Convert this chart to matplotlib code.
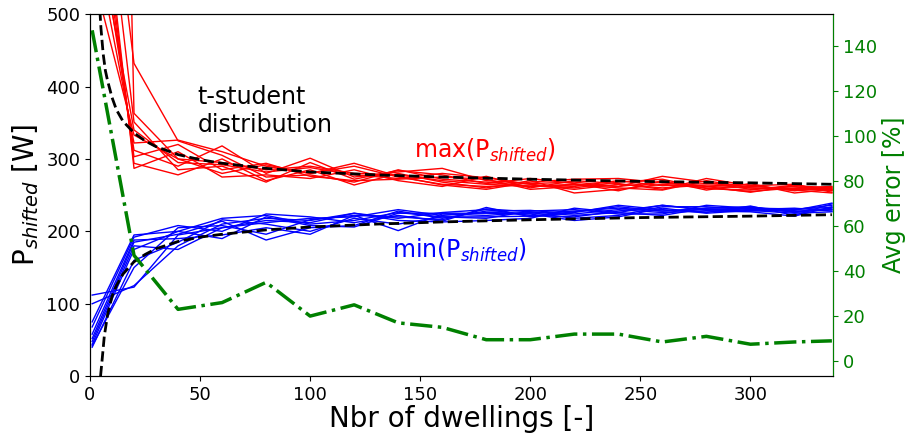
import matplotlib
matplotlib.use("Agg")
import matplotlib.pyplot as plt

# number of dwellings at which the aggregation was evaluated
n_dwell = [1, 20, 40, 60, 80, 100, 120, 140, 160, 180, 200, 220, 240, 260, 280, 300, 320, 337]

# max(P_shifted) for each sample run
max_runs = [
    [560, 333, 300, 295, 285, 290, 280, 278, 270, 265, 262, 265, 262, 268, 262, 260, 258, 257],
    [620, 322, 326, 310, 290, 280, 290, 275, 265, 262, 264, 258, 265, 260, 264, 262, 259, 259],
    [680, 312, 290, 318, 280, 301, 275, 282, 287, 270, 266, 268, 262, 276, 268, 258, 262, 256],
    [720, 303, 320, 285, 294, 276, 270, 272, 275, 272, 258, 262, 270, 263, 266, 264, 256, 261],
    [760, 294, 278, 300, 270, 285, 264, 280, 268, 260, 270, 253, 258, 265, 260, 255, 260, 262],
    [800, 287, 310, 275, 278, 273, 285, 270, 262, 276, 260, 270, 266, 258, 273, 263, 265, 254],
    [840, 351, 285, 290, 268, 295, 272, 284, 278, 266, 273, 266, 256, 270, 257, 266, 253, 258],
    [3000, 363, 300, 280, 292, 280, 294, 276, 264, 258, 268, 272, 273, 267, 262, 254, 263, 260],
    [900, 432, 325, 305, 275, 278, 268, 285, 272, 268, 262, 264, 260, 257, 270, 260, 257, 253],
    [650, 340, 295, 292, 282, 288, 278, 273, 280, 274, 265, 260, 268, 272, 259, 257, 264, 257],
]

# min(P_shifted) for each sample run
min_runs = [
    [112, 123, 195, 205, 212, 218, 220, 230, 222, 226, 225, 228, 232, 228, 232, 234, 226, 232],
    [100, 125, 180, 210, 218, 215, 225, 218, 226, 230, 222, 220, 228, 236, 230, 228, 230, 236],
    [75, 195, 200, 218, 222, 210, 215, 226, 220, 218, 228, 230, 224, 224, 236, 232, 228, 230],
    [68, 192, 208, 200, 224, 220, 212, 222, 214, 233, 220, 226, 236, 230, 226, 235, 222, 238],
    [58, 188, 190, 195, 205, 196, 222, 201, 224, 222, 226, 218, 222, 234, 234, 230, 232, 228],
    [52, 185, 196, 214, 188, 205, 208, 228, 218, 228, 229, 224, 230, 226, 228, 227, 221, 234],
    [48, 180, 175, 205, 215, 212, 225, 215, 213, 215, 218, 232, 226, 222, 232, 233, 229, 239],
    [44, 175, 200, 190, 220, 208, 206, 225, 225, 225, 224, 215, 220, 232, 225, 229, 225, 227],
    [40, 160, 185, 216, 210, 200, 218, 210, 220, 220, 221, 227, 234, 228, 230, 232, 231, 233],
    [42, 150, 205, 208, 196, 216, 222, 220, 216, 231, 227, 222, 226, 236, 229, 231, 227, 230],
]

# t-student bounds
t_upper_x = [4.5, 5, 6, 7, 8, 10, 12, 15, 20, 25, 30, 40, 50, 60, 80, 100, 130, 160, 200, 250, 300, 337]
t_upper = [505, 480, 445, 422, 408, 385, 368, 352, 336, 325, 317, 306, 299, 294, 287, 282, 278, 275, 272, 269, 267, 265]
t_lower_x = [4.8, 5.5, 6.5, 8, 10, 12, 15, 20, 25, 30, 40, 50, 60, 80, 100, 130, 160, 200, 250, 300, 337]
t_lower = [0, 22, 55, 85, 110, 125, 141, 158, 168, 176, 186, 192, 196, 202, 206, 210, 213, 216, 219, 221, 223]

# average error [%]
avg_error = [147, 47, 23, 26, 35, 20, 25, 17, 15, 9.5, 9.5, 12, 12, 8.5, 11, 7.5, 8.5, 9]

fig = plt.figure(figsize=(9.07, 4.41), dpi=100)
ax = fig.add_axes([0.0992, 0.147, 0.8192, 0.821])

for run in max_runs:
    ax.plot(n_dwell, run, color="red", lw=1.0)
for run in min_runs:
    ax.plot(n_dwell, run, color="blue", lw=1.0)
ax.plot(t_upper_x, t_upper, "k--", lw=2)
ax.plot(t_lower_x, t_lower, "k--", lw=2)

ax.set_xlim(0, 337.5)
ax.set_ylim(0, 500)
ax.set_xticks([0, 50, 100, 150, 200, 250, 300])
ax.set_yticks([0, 100, 200, 300, 400, 500])
ax.tick_params(labelsize=13)
ax.set_xlabel("Nbr of dwellings [-]", fontsize=20, labelpad=1)
ax.set_ylabel("P$_{shifted}$ [W]", fontsize=20)

ax.text(49, 402, "t-student\ndistribution", fontsize=17, va="top", ha="left")
ax.text(147, 302, "max(P$_{shifted}$)", fontsize=17, color="red", va="baseline")
ax.text(137, 163, "min(P$_{shifted}$)", fontsize=17, color="blue", va="baseline")

ax2 = ax.twinx()
ax2.plot(n_dwell, avg_error, color="green", ls="-.", lw=2.5)
ax2.set_ylim(-6.7, 154.2)
ax2.set_yticks([0, 20, 40, 60, 80, 100, 120, 140])
ax2.tick_params(axis="y", colors="green", labelsize=13)
ax2.spines["right"].set_color("green")
ax2.set_ylabel("Avg error [%]", color="green", fontsize=17)

plt.savefig("out.png", dpi=100)
